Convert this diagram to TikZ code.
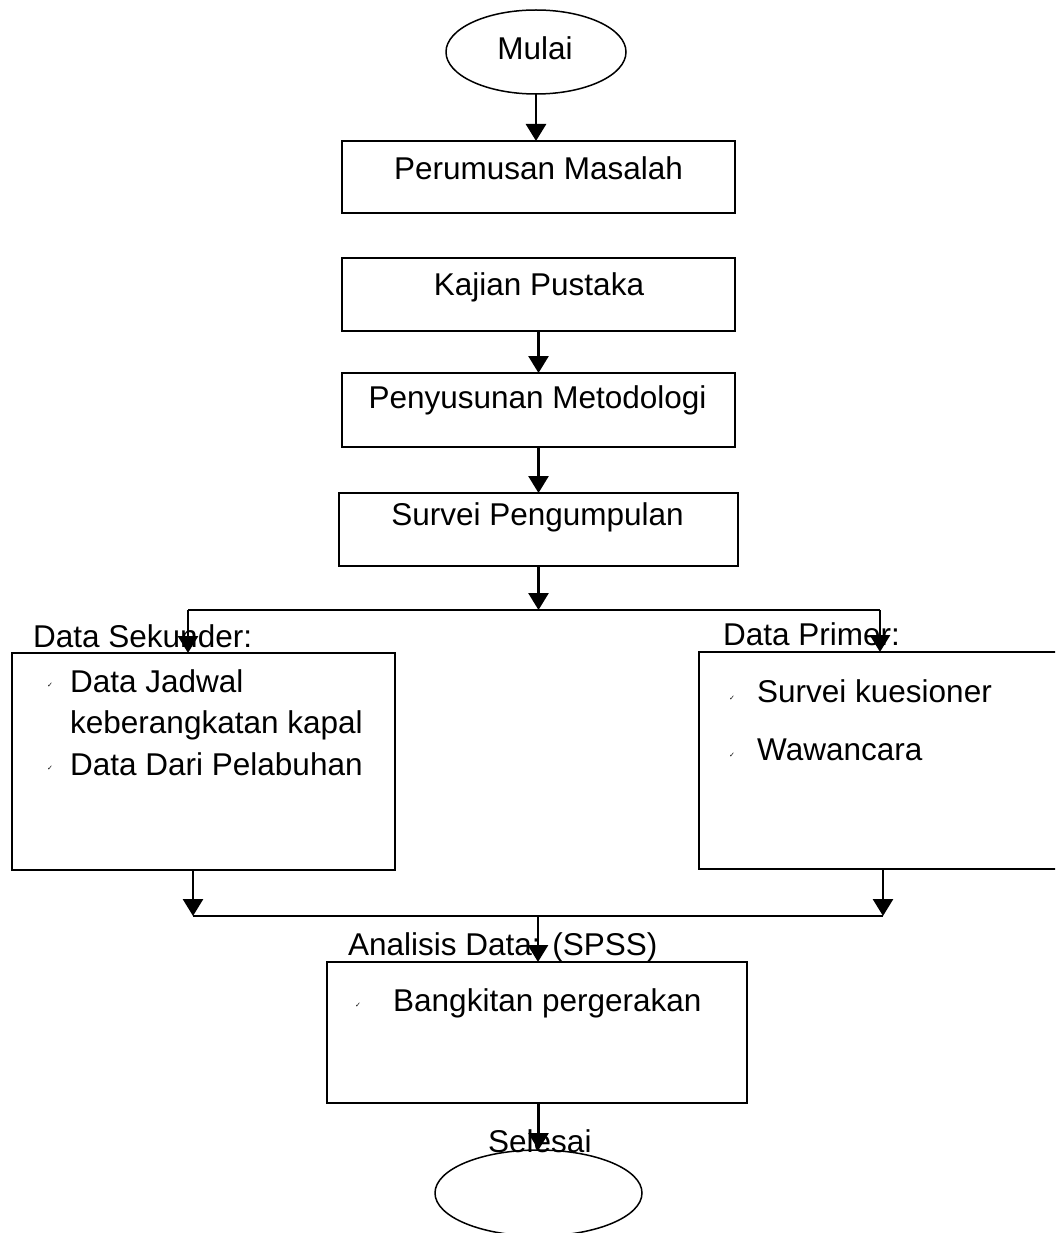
\documentclass[tikz,border=0pt]{standalone}
\usepackage{fontspec}
\setmainfont{Liberation Sans}
\newfontfamily\djv{DejaVu Sans}
\usetikzlibrary{arrows.meta,shapes.geometric}
\begin{document}
\begin{tikzpicture}[x=1pt,y=-1pt,
  boxstyle/.style={draw,line width=1.8pt,rectangle,inner sep=0pt,outer sep=0pt},
  ovalstyle/.style={draw,line width=1.5pt,ellipse,inner sep=0pt,outer sep=0pt},
  lbl/.style={anchor=base,inner sep=0pt,font=\fontsize{31.5}{36}\selectfont},
  lbll/.style={anchor=base west,inner sep=0pt,font=\fontsize{31.5}{36}\selectfont},
  tick/.style={anchor=center,inner sep=0pt,font=\djv\fontsize{7}{8}\selectfont},
  ln/.style={line width=2.2pt},
  arr/.style={line width=2.8pt,-{Triangle[width=20pt,length=17pt]}}
]
\useasboundingbox (0,0) rectangle (1055,1233);
\clip (0,0) rectangle (1055,1233);
\fill[white] (0,0) rectangle (1055,1233);

% shapes
\node[ovalstyle,minimum width=180pt,minimum height=84pt] (mulai) at (536,52) {};
\node[boxstyle,minimum width=393pt,minimum height=72pt] (perumusan) at (538.5,177) {};
\node[boxstyle,minimum width=393pt,minimum height=73pt] (kajian) at (538.5,294.5) {};
\node[boxstyle,minimum width=393pt,minimum height=74pt] (penyusunan) at (538.5,410) {};
\node[boxstyle,minimum width=399pt,minimum height=73pt] (survei) at (538.5,529.5) {};
\node[boxstyle,minimum width=383pt,minimum height=217pt] (sekunder) at (203.5,761.5) {};
\node[boxstyle,minimum width=383pt,minimum height=217pt] (primer) at (890.5,760.5) {};
\node[boxstyle,minimum width=420pt,minimum height=141pt] (analisis) at (537,1032.5) {};
\node[ovalstyle,minimum width=207pt,minimum height=86pt] (selesai) at (538.5,1193) {};

% texts
\node[lbl] (tmulai) at (535,60) {Mulai};
\node[lbl] (tperumusan) at (538.5,180) {Perumusan Masalah};
\node[lbl] (tkajian) at (539,295) {Kajian Pustaka};
\node[lbl] (tpenyusunan) at (537.5,408) {Penyusunan Metodologi};
\node[lbl] (tsurvei) at (537.5,525) {Survei Pengumpulan};
\node[lbll] (tsekunder) at (33,647) {Data Sekunder:};
\node[lbll] (tjadwal) at (70,692) {Data Jadwal};
\node[lbll] (tkeber) at (70,733) {keberangkatan kapal};
\node[lbll] (tdari) at (70,775) {Data Dari Pelabuhan};
\node[lbll] (tprimer) at (723,645) {Data Primer:};
\node[lbll] (tkues) at (757,702) {Survei kuesioner};
\node[lbll] (twawan) at (757,760) {Wawancara};
\node[lbll] (tanalisis) at (348,955) {Analisis Data: (SPSS)};
\node[lbll] (tbangkit) at (393,1011) {Bangkitan pergerakan};
\node[lbll] (tselesai) at (488,1152) {Selesai};

% bullets
\node[tick] (b1) at (50,685) {✓};
\node[tick] (b2) at (50,768) {✓};
\node[tick] (b3) at (732,698) {✓};
\node[tick] (b4) at (732,755) {✓};
\node[tick] (b5) at (358,1005) {✓};

% connector points
\coordinate (split) at (538.5,610);
\coordinate (splitL) at (188,610);
\coordinate (splitR) at (880,610);
\coordinate (mergeL) at (193,916);
\coordinate (mergeR) at (883,916);
\coordinate (merge) at (538,916);

% connectors
\draw[arr] (mulai.south) -- (mulai.south |- perumusan.north);
\draw[arr] (kajian.south) -- (kajian.south |- penyusunan.north);
\draw[arr] (penyusunan.south) -- (penyusunan.south |- survei.north);
\draw[arr] (split |- survei.south) -- (split);
\draw[ln] (splitL) -- (splitR);
\draw[arr] (splitL) -- (splitL |- sekunder.north);
\draw[arr] (splitR) -- (splitR |- primer.north);
\draw[arr] (mergeL |- sekunder.south) -- (mergeL);
\draw[arr] (mergeR |- primer.south) -- (mergeR);
\draw[ln] (mergeL) -- (mergeR);
\draw[arr] (merge) -- (merge |- analisis.north);
\draw[arr] (selesai.north |- analisis.south) -- (selesai.north);
\end{tikzpicture}
\end{document}
